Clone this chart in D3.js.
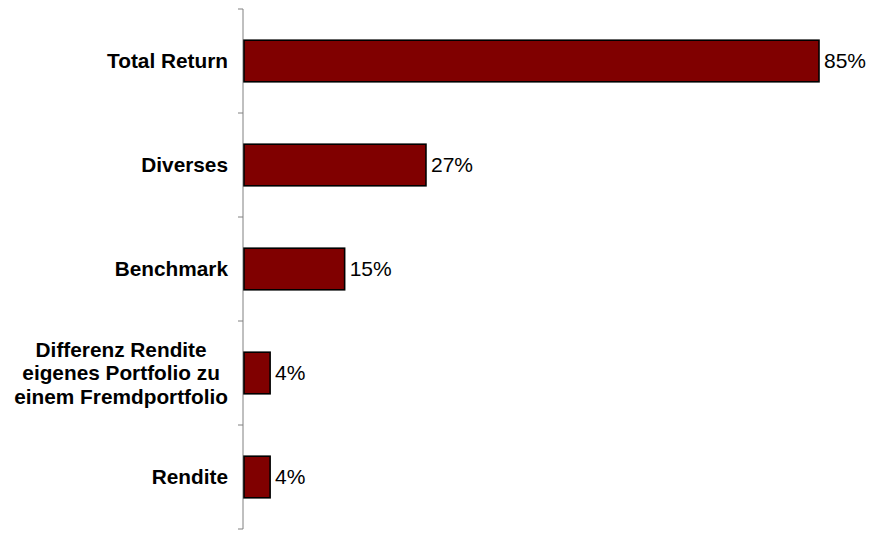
<!DOCTYPE html>
<html>
<head>
<meta charset="utf-8">
<script src="https://cdn.jsdelivr.net/npm/d3@7"></script>
<style>
  html, body { margin: 0; padding: 0; background: #fff; }
  svg { display: block; }
</style>
</head>
<body>
<svg id="chart" width="870" height="536"></svg>
<script>
// Category labels (lines of each label) and their percentage values
const categories = [
  ["Total Return"],
  ["Diverses"],
  ["Benchmark"],
  ["Differenz Rendite", "eigenes Portfolio zu", "einem Fremdportfolio"],
  ["Rendite"]
];
const values = [85, 27, 15, 4, 4];

const svg = d3.select("#chart");
const font = "'Liberation Sans', Arial, sans-serif";

const axisX = 243;
const plotTop = 9, plotBottom = 529;

const keys = categories.map((c, i) => i);
const y = d3.scaleBand()
  .domain(keys)
  .range([plotTop, plotBottom])
  .paddingInner(0.6)
  .paddingOuter(0.3);

const x = d3.scaleLinear().domain([0, 85]).range([axisX, 819]);

// Vertical category axis with ticks at band boundaries
const boundaries = d3.range(categories.length + 1).map(i => plotTop + i * y.step());
const axisG = svg.append("g");
axisG.append("line")
  .attr("x1", axisX).attr("x2", axisX)
  .attr("y1", plotTop).attr("y2", plotBottom)
  .attr("stroke", "#808080").attr("stroke-width", 1);
axisG.selectAll("line.tick")
  .data(boundaries)
  .join("line")
  .attr("class", "tick")
  .attr("x1", axisX - 5).attr("x2", axisX)
  .attr("y1", d => d).attr("y2", d => d)
  .attr("stroke", "#808080").attr("stroke-width", 1);

// Bars
svg.append("g").selectAll("rect")
  .data(values)
  .join("rect")
  .attr("x", x(0) + 1)
  .attr("y", (d, i) => y(i))
  .attr("width", d => x(d) - x(0) - 1)
  .attr("height", y.bandwidth())
  .attr("fill", "#800000")
  .attr("stroke", "#000")
  .attr("stroke-width", 1.6);

// Value labels
svg.append("g").selectAll("text")
  .data(values)
  .join("text")
  .attr("x", d => x(d) + 5)
  .attr("y", (d, i) => y(i) + y.bandwidth() / 2)
  .attr("dy", "0.35em")
  .attr("font-family", font)
  .attr("font-size", 21)
  .attr("fill", "#000")
  .text(d => d + "%");

// Category labels: lines centred on each other, right-aligned block
const labelRight = 228;
const lineH = 23.5;
const labelG = svg.append("g");
categories.forEach((lines, i) => {
  const cy = y(i) + y.bandwidth() / 2;
  const t = labelG.append("text")
    .attr("font-family", font)
    .attr("font-size", 20.8)
    .attr("font-weight", "bold")
    .attr("fill", "#000")
    .attr("text-anchor", "middle");
  const spans = lines.map((ln, j) => t.append("tspan")
    .attr("y", cy + (j - (lines.length - 1) / 2) * lineH)
    .attr("dy", "0.35em")
    .text(ln));
  const maxW = d3.max(spans, s => s.node().getComputedTextLength());
  spans.forEach(s => s.attr("x", labelRight - maxW / 2));
});
</script>
</body>
</html>
